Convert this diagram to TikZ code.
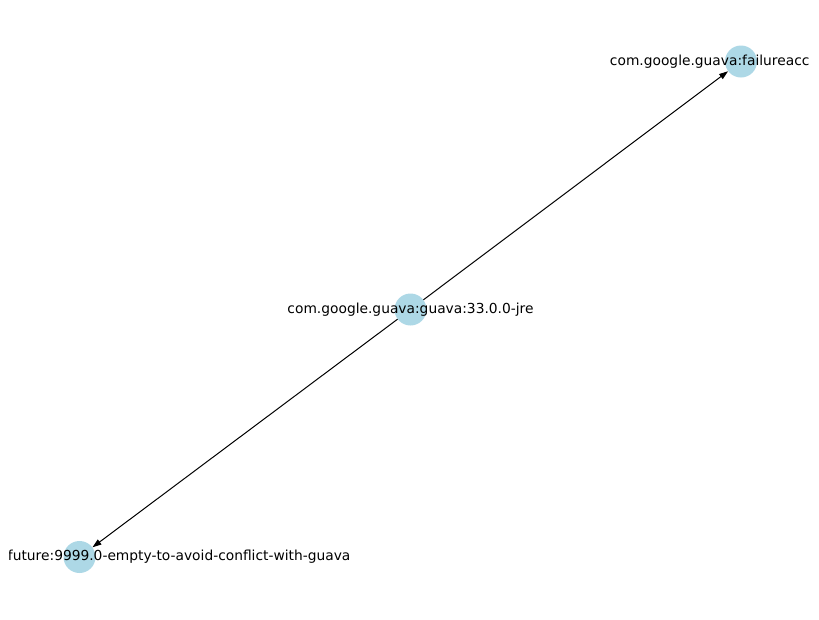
\documentclass[tikz,border=0pt]{standalone}
\usepackage{fontspec}
\setmainfont{DejaVu Sans}
\usetikzlibrary{arrows.meta}
\definecolor{nodeblue}{RGB}{173,216,230}
\tikzset{
  dep/.style={circle,fill=nodeblue,minimum size=32pt,inner sep=0pt},
  lbl/.style={inner sep=0pt,font=\fontsize{13.8}{16}\selectfont},
  edge/.style={line width=1pt,-{Triangle[length=9pt,width=6pt]}}
}
\begin{document}
\begin{tikzpicture}[x=1pt,y=-1pt]
    \useasboundingbox (0,0) rectangle (819,619);
    %% packages
    \node [dep] (guava) at (410.5,309.5) {};
    \node [dep] (failure) at (741,61.5) {};
    \node [dep] (listen) at (79.5,557) {};
    %% dependencies
    \draw [edge] (guava) -- (failure);
    \draw [edge] (guava) -- (listen);
    %% labels, cut at the plot area
    \begin{scope}
      \clip (9.5,9.5) rectangle (809.5,609.5);
      \node [lbl] (guavatxt) at (guava) {com.google.guava:guava:33.0.0-jre};
      \node [lbl] (failuretxt) at (failure) {com.google.guava:failureaccess:1.0.2};
      \node [lbl] (listentxt) at (listen) {com.google.guava:listenablefuture:9999.0-empty-to-avoid-conflict-with-guava};
    \end{scope}
\end{tikzpicture}
\end{document}
